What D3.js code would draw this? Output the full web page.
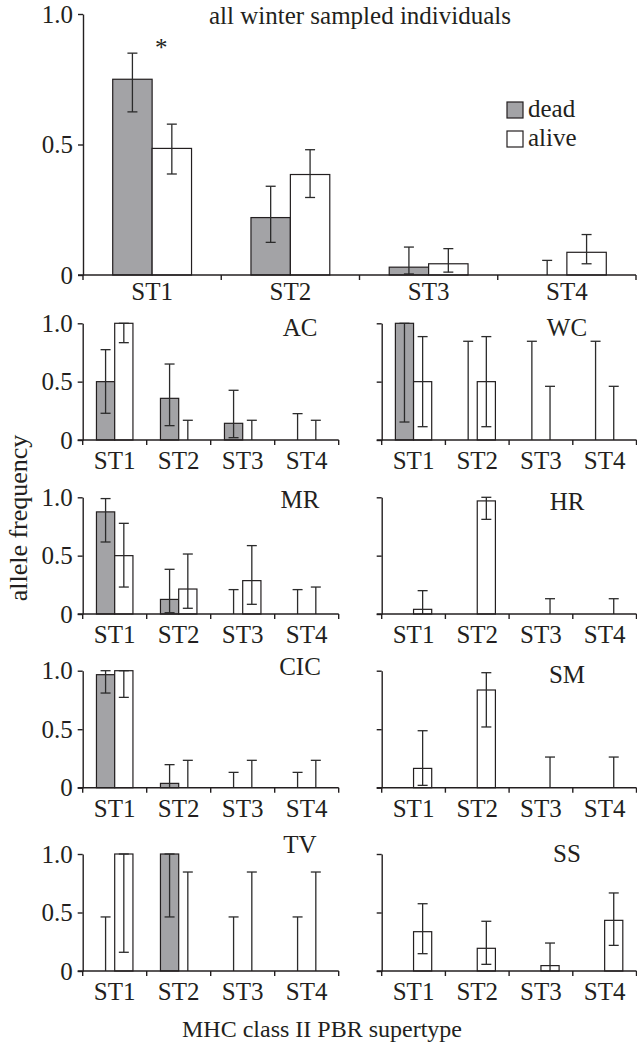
<!DOCTYPE html>
<html>
<head>
<meta charset="utf-8">
<script src="https://cdn.jsdelivr.net/npm/d3@7"></script>
<style>
  html, body { margin: 0; padding: 0; background: #fff; }
  svg { display: block; }
  text { font-family: "Liberation Serif", "Times New Roman", serif; fill: #231f20; }
</style>
</head>
<body>
<svg id="chart" width="637" height="1043"></svg>
<script>
// ---------------- DATA ----------------
const supertypes = ["ST1", "ST2", "ST3", "ST4"];
const groups = ["dead", "alive"];
const yTicks = [0, 0.5, 1.0];
const topTitle = "all winter sampled individuals";
const xTitle = "MHC class II PBR supertype";
const yTitle = "allele frequency";

// all winter sampled individuals
const allDead     = [0.75, 0.22, 0.03, 0];
const allDeadErr  = [[0.625, 0.85], [0.125, 0.34], [0.004, 0.107], [null, 0.056]];
const allAlive    = [0.485, 0.385, 0.043, 0.087];
const allAliveErr = [[0.387, 0.578], [0.297, 0.48], [0.011, 0.101], [0.043, 0.155]];

const panelNames = ["AC", "WC", "MR", "HR", "CIC", "SM", "TV", "SS"];

const acDead     = [0.5, 0.357, 0.143, 0];
const acDeadErr  = [[0.229, 0.774], [0.123, 0.651], [0.02, 0.426], [null, 0.226]];
const acAlive    = [1, 0, 0, 0];
const acAliveErr = [[0.834, 1], [null, 0.169], [null, 0.169], [null, 0.169]];

const wcDead     = [1, 0, 0, 0];
const wcDeadErr  = [[0.154, 1], [null, 0.846], [null, 0.846], [null, 0.846]];
const wcAlive    = [0.5, 0.5, 0, 0];
const wcAliveErr = [[0.114, 0.886], [0.114, 0.886], [null, 0.46], [null, 0.46]];

const mrDead     = [0.875, 0.125, 0, 0];
const mrDeadErr  = [[0.617, 0.989], [0.011, 0.383], [null, 0.209], [null, 0.209]];
const mrAlive    = [0.5, 0.214, 0.286, 0];
const mrAliveErr = [[0.231, 0.777], [0.049, 0.514], [0.083, 0.586], [null, 0.231]];

const hrDead     = null;
const hrDeadErr  = null;
const hrAlive    = [0.04, 0.969, 0, 0];
const hrAliveErr = [[null, 0.2], [0.811, 1], [null, 0.131], [null, 0.131]];

const cicDead     = [0.966, 0.037, 0, 0];
const cicDeadErr  = [[0.809, 1], [null, 0.197], [null, 0.131], [null, 0.131]];
const cicAlive    = [1, 0, 0, 0];
const cicAliveErr = [[0.772, 1], [null, 0.234], [null, 0.234], [null, 0.234]];

const smDead     = null;
const smDeadErr  = null;
const smAlive    = [0.165, 0.835, 0, 0];
const smAliveErr = [[0.02, 0.487], [0.519, 0.983], [null, 0.262], [null, 0.262]];

const tvDead     = [0, 1, 0, 0];
const tvDeadErr  = [[null, 0.462], [0.462, 1], [null, 0.462], [null, 0.462]];
const tvAlive    = [1, 0, 0, 0];
const tvAliveErr = [[0.16, 1], [null, 0.846], [null, 0.846], [null, 0.846]];

const ssDead     = null;
const ssDeadErr  = null;
const ssAlive    = [0.336, 0.194, 0.046, 0.433];
const ssAliveErr = [[0.148, 0.575], [0.057, 0.425], [null, 0.239], [0.219, 0.667]];

// ---------------- LAYOUT ----------------
const FONT = 25;
const colors = { dead: "#a3a3a6", alive: "#ffffff" };
const ink = "#231f20";
const svg = d3.select("#chart");

const panels = [
  { name: "AC",  dead: acDead,  deadErr: acDeadErr,  alive: acAlive,  aliveErr: acAliveErr,  col: 0, row: 0, lab: 13 },
  { name: "WC",  dead: wcDead,  deadErr: wcDeadErr,  alive: wcAlive,  aliveErr: wcAliveErr,  col: 1, row: 0, lab: 13 },
  { name: "MR",  dead: mrDead,  deadErr: mrDeadErr,  alive: mrAlive,  aliveErr: mrAliveErr,  col: 0, row: 1, lab: 11 },
  { name: "HR",  dead: hrDead,  deadErr: hrDeadErr,  alive: hrAlive,  aliveErr: hrAliveErr,  col: 1, row: 1, lab: 12.5 },
  { name: "CIC", dead: cicDead, deadErr: cicDeadErr, alive: cicAlive, aliveErr: cicAliveErr, col: 0, row: 2, lab: 4 },
  { name: "SM",  dead: smDead,  deadErr: smDeadErr,  alive: smAlive,  aliveErr: smAliveErr,  col: 1, row: 2, lab: 12.5 },
  { name: "TV",  dead: tvDead,  deadErr: tvDeadErr,  alive: tvAlive,  aliveErr: tvAliveErr,  col: 0, row: 3, lab: -1 },
  { name: "SS",  dead: ssDead,  deadErr: ssDeadErr,  alive: ssAlive,  aliveErr: ssAliveErr,  col: 1, row: 3, lab: 7.5 }
];
const colX = [[82.7, 338.7], [381.7, 636.5]];
const colLabelX = [300, 567];
const rowY = [[323.3, 440], [497.3, 614], [670.7, 787.7], [854, 971]];

function drawPanel(opts) {
  const { x0, x1, yTop, yBot, dead, deadErr, alive, aliveErr, showYLabels } = opts;
  const g = svg.append("g");
  const x = d3.scaleBand().domain(supertypes).range([x0, x1]).paddingInner(0).paddingOuter(0);
  const xs = d3.scaleBand().domain(groups).range([0, x.bandwidth()]).paddingInner(0).paddingOuter(0.754);
  const y = d3.scaleLinear().domain([0, 1]).range([yBot, yTop]);

  // y axis
  const yAxis = d3.axisLeft(y).tickValues(yTicks).tickSize(5).tickSizeOuter(0).tickPadding(5)
    .tickFormat(d => showYLabels ? (d === 0 ? "0" : d3.format(".1f")(d)) : "");
  const ya = g.append("g").attr("transform", `translate(${x0},0)`).call(yAxis);
  ya.select(".domain").attr("stroke", ink).attr("stroke-width", 1.4);
  ya.selectAll(".tick line").attr("stroke", ink).attr("stroke-width", 1.4);
  ya.selectAll(".tick text").style("font-family", "Liberation Serif").style("font-size", FONT + "px").attr("fill", ink);

  // bars
  const series = [
    { key: "dead", vals: dead, err: deadErr },
    { key: "alive", vals: alive, err: aliveErr }
  ].filter(s => s.vals);

  series.forEach(s => {
    const data = supertypes.map((st, i) => ({ st, v: s.vals[i], e: s.err[i] }));
    g.selectAll(null).data(data.filter(d => d.v > 0)).join("rect")
      .attr("x", d => x(d.st) + xs(s.key))
      .attr("y", d => y(d.v))
      .attr("width", xs.bandwidth())
      .attr("height", d => y(0) - y(d.v))
      .attr("fill", colors[s.key])
      .attr("stroke", ink)
      .attr("stroke-width", 1.2);
  });

  // error bars
  const cap = 5;
  series.forEach(s => {
    const data = supertypes.map((st, i) => ({ st, v: s.vals[i], e: s.err[i] }));
    data.forEach(d => {
      const cx = x(d.st) + xs(s.key) + xs.bandwidth() / 2;
      const lo = d.e[0] == null ? 0 : d.e[0];
      const hi = d.e[1];
      const eg = g.append("g").attr("stroke", "#2b2b2b").attr("stroke-width", 1.3);
      eg.append("line").attr("x1", cx).attr("x2", cx).attr("y1", y(lo)).attr("y2", y(hi));
      eg.append("line").attr("x1", cx - cap).attr("x2", cx + cap).attr("y1", y(hi)).attr("y2", y(hi));
      if (d.e[0] != null) {
        eg.append("line").attr("x1", cx - cap).attr("x2", cx + cap).attr("y1", y(lo)).attr("y2", y(lo));
      }
    });
  });

  // x axis: line + boundary ticks + centered labels
  const xa = g.append("g");
  xa.append("line").attr("x1", x0 - 5).attr("x2", x1).attr("y1", yBot).attr("y2", yBot)
    .attr("stroke", ink).attr("stroke-width", 1.4);
  const bounds = supertypes.map(st => x(st)).concat([x.range()[1]]);
  xa.selectAll(null).data(bounds).join("line")
    .attr("x1", d => d).attr("x2", d => d).attr("y1", yBot).attr("y2", yBot + 5)
    .attr("stroke", ink).attr("stroke-width", 1.4);
  xa.selectAll(null).data(supertypes).join("text")
    .attr("x", d => x(d) + x.bandwidth() / 2)
    .attr("y", yBot + opts.labelGap)
    .attr("text-anchor", "middle")
    .style("font-size", FONT + "px")
    .text(d => d);

  return { x, xs, y, g };
}

// ---------- top panel ----------
const topPanel = drawPanel({
  x0: 83, x1: 636, yTop: 14, yBot: 275,
  dead: allDead, deadErr: allDeadErr, alive: allAlive, aliveErr: allAliveErr,
  showYLabels: true, labelGap: 25
});
svg.append("text").attr("x", 360).attr("y", 24).attr("text-anchor", "middle")
  .style("font-size", FONT + "px").text(topTitle);
// significance asterisk above ST1
svg.append("text")
  .attr("x", topPanel.x("ST1") + topPanel.xs("alive") + 9)
  .attr("y", 56).attr("text-anchor", "middle")
  .style("font-size", FONT + "px").text("*");

// legend
const legend = svg.append("g").attr("transform", "translate(507,102)");
groups.forEach((k, i) => {
  legend.append("rect").attr("x", 0).attr("y", i * 29).attr("width", 16).attr("height", 16)
    .attr("fill", colors[k]).attr("stroke", ink).attr("stroke-width", 1.2);
  legend.append("text").attr("x", 21).attr("y", i * 29 + 15)
    .style("font-size", FONT + "px").text(k);
});

// ---------- small panels ----------
panels.forEach(p => {
  const [x0, x1] = colX[p.col];
  const [yTop, yBot] = rowY[p.row];
  drawPanel({
    x0, x1, yTop, yBot,
    dead: p.dead, deadErr: p.deadErr, alive: p.alive, aliveErr: p.aliveErr,
    showYLabels: p.col === 0, labelGap: 29
  });
  svg.append("text").attr("x", colLabelX[p.col]).attr("y", yTop + p.lab)
    .attr("text-anchor", "middle").style("font-size", FONT + "px").text(p.name);
});

// axis titles
svg.append("text")
  .attr("transform", "translate(27,518) rotate(-90)")
  .attr("text-anchor", "middle").style("font-size", "26px").text(yTitle);
svg.append("text").attr("x", 322).attr("y", 1037).attr("text-anchor", "middle")
  .style("font-size", "24px").text(xTitle);
</script>
</body>
</html>
